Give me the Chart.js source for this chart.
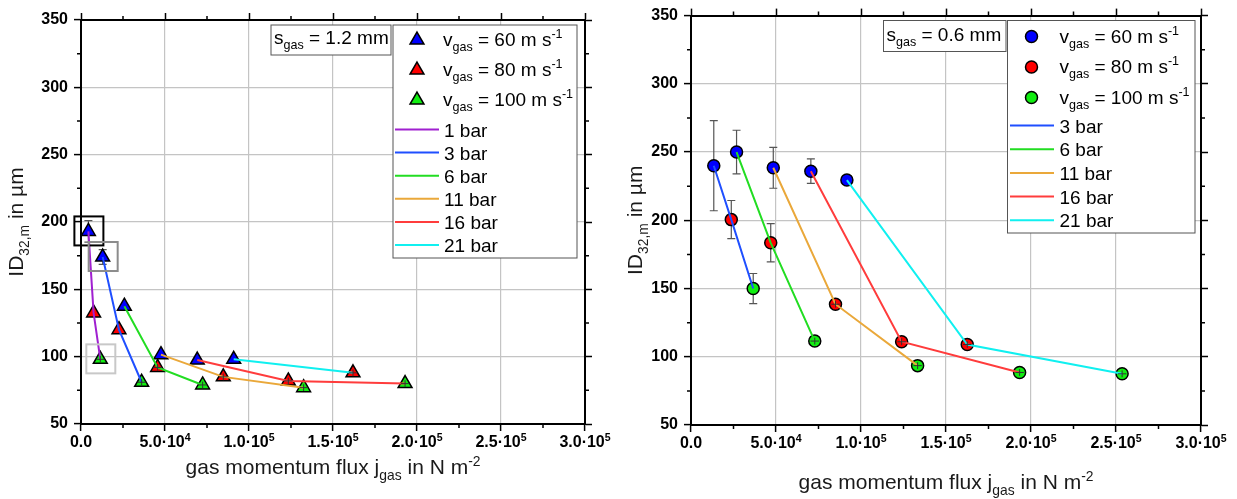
<!DOCTYPE html>
<html>
<head>
<meta charset="utf-8">
<script src="https://cdn.jsdelivr.net/npm/chart.js@4.4.0/dist/chart.umd.min.js"></script>
<style>
html, body { margin: 0; padding: 0; background: #fff; }
#wrap { position: relative; width: 1237px; height: 499px; }
.pane { position: absolute; top: 0; height: 499px; }
</style>
</head>
<body>
<div id="wrap">
  <div class="pane" style="left:0;width:620px"><canvas id="c1"></canvas></div>
  <div class="pane" style="left:620px;width:617px"><canvas id="c2"></canvas></div>
</div>
<script>
// ---- data: s_gas = 1.2 mm (left) ----
var pressL = ['1 bar', '3 bar', '6 bar', '11 bar', '16 bar', '21 bar'];
var xL60  = [4400, 12900, 25800, 47600, 69200, 90900];
var yL60  = [193, 174, 137.5, 101.5, 97.5, 98];
var xL80  = [7500, 22600, 45600, 84700, 123400, 161900];
var yL80  = [132.5, 120, 92, 85, 82, 88];
var xL100 = [11500, 36100, 72400, 132500, 192900];
var yL100 = [98, 81, 79, 77, 80];
var eyL60  = [8, 5.5, 0, 0, 0, 0];
var exL60  = [0, 0, 0, 0, 0, 0];
var eyL80  = [0, 0, 2.5, 2.5, 2.5, 2.5];
var exL80  = [0, 0, 2500, 2500, 2500, 2500];
var eyL100 = [2.5, 2.5, 2.5, 2.5, 2.5];
var exL100 = [2500, 2500, 2500, 2500, 2500];

// ---- data: s_gas = 0.6 mm (right) ----
var pressR = ['3 bar', '6 bar', '11 bar', '16 bar', '21 bar'];
var xR60  = [13400, 26800, 48400, 70500, 91700];
var yR60  = [240, 250, 238.5, 236, 229.5];
var xR80  = [23700, 46900, 85000, 123900, 162500];
var yR80  = [200.5, 183.5, 138.5, 111, 109];
var xR100 = [36600, 72800, 133300, 193300, 253600];
var yR100 = [150, 111.5, 93.5, 88.5, 87.5];
var eyR60  = [33, 16, 15, 9, 3];
var exR60  = [0, 0, 0, 0, 0];
var eyR80  = [14, 14, 2.5, 2.5, 2.5];
var exR80  = [0, 0, 2500, 2500, 2500];
var eyR100 = [11, 2.5, 2.5, 2.5, 2.5];
var exR100 = [0, 2500, 2500, 2500, 2500];

var xTicks = [0, 50000, 100000, 150000, 200000, 250000, 300000];
var yTicks = [50, 100, 150, 200, 250, 300, 350];

var FONT = '"Liberation Sans", Arial, sans-serif';
var velColors = ['#0000ff', '#ff0000', '#11ee11'];
var velNames = ['60', '80', '100'];
var lineColL = ['#a020d0', '#1f4fff', '#22dd22', '#eaa83a', '#ff3c3c', '#10f0f0'];
var lineColR = ['#1f4fff', '#22dd22', '#eaa83a', '#ff3c3c', '#10f0f0'];

// x tick label as parts: mantissa·10 + superscript exponent
function xLabelParts(v) {
  if (v === 0) return [['0.0', '']];
  var e = Math.floor(Math.log10(v) + 1e-9);
  var m = v / Math.pow(10, e);
  return [[m.toFixed(1) + '·10', ''], [String(e), 'sup']];
}

// text with sub/superscripts, parts = [[text, ''|'sub'|'sup'], ...], y = baseline
function rich(ctx, parts, x, y, size, align, weight) {
  var small = size * 0.66, w = 0, i, p;
  var wt = weight ? weight + ' ' : '';
  for (i = 0; i < parts.length; i++) {
    p = parts[i];
    ctx.font = wt + (p[1] ? small : size) + 'px ' + FONT;
    w += ctx.measureText(p[0]).width;
  }
  var cx = align === 'center' ? x - w / 2 : x;
  ctx.textAlign = 'left';
  ctx.textBaseline = 'alphabetic';
  for (i = 0; i < parts.length; i++) {
    p = parts[i];
    ctx.font = wt + (p[1] ? small : size) + 'px ' + FONT;
    var dy = p[1] === 'sub' ? size * 0.28 : (p[1] === 'sup' ? -size * 0.4 : 0);
    ctx.fillText(p[0], cx, y + dy);
    cx += ctx.measureText(p[0]).width;
  }
}

function marker(ctx, style, x, y, r, fill) {
  ctx.beginPath();
  if (style === 'triangle') {
    var a = 0;
    for (var k = 0; k < 3; k++) {
      var px = x + Math.sin(a) * r, py = y - Math.cos(a) * r;
      if (k) ctx.lineTo(px, py); else ctx.moveTo(px, py);
      a += 2 * Math.PI / 3;
    }
    ctx.closePath();
  } else {
    ctx.arc(x, y, r, 0, 2 * Math.PI);
  }
  ctx.fillStyle = fill;
  ctx.fill();
  ctx.lineWidth = 1.5;
  ctx.strokeStyle = '#000';
  ctx.stroke();
}

var DECO = {
  c1: {
    style: 'triangle', r: 8,
    series: [[xL60, yL60, eyL60, exL60], [xL80, yL80, eyL80, exL80], [xL100, yL100, eyL100, exL100]],
    press: pressL, lineCol: lineColL,
    sgas: {x: 271, y: 25, w: 120, h: 30, tx: 274, base: 44, val: '1.2'},
    leg: {x: 393, y: 25, w: 184, h: 233, mx: 417, tx: 443, my0: 40, mstep: 30, lx0: 395, lx1: 439, ltx: 444, ly0: 129.5, lstep: 23.1},
    boxes: [[0, 0, '#000'], [0, 1, '#8c8c8c'], [2, 0, '#c8c8c8']],
    xtBase: 474, ytX: 23
  },
  c2: {
    style: 'circle', r: 6,
    series: [[xR60, yR60, eyR60, exR60], [xR80, yR80, eyR80, exR80], [xR100, yR100, eyR100, exR100]],
    press: pressR, lineCol: lineColR,
    sgas: {x: 263.5, y: 20.5, w: 122.5, h: 31, tx: 266.5, base: 41, val: '0.6'},
    leg: {x: 387.5, y: 20.5, w: 187.5, h: 212.5, mx: 411.5, tx: 439.5, my0: 36.5, mstep: 30.5, lx0: 390, lx1: 434, ltx: 439.5, ly0: 125.5, lstep: 23.7},
    boxes: [],
    xtBase: 489, ytX: 22
  }
};

function errBars(chart, over) {
  var d = DECO[chart.canvas.id], ctx = chart.ctx;
  var sx = chart.scales.x, sy = chart.scales.y;
  ctx.save();
  d.series.forEach(function (s) {
    for (var i = 0; i < s[0].length; i++) {
      var px = sx.getPixelForValue(s[0][i]), py = sy.getPixelForValue(s[1][i]);
      var ey = s[2][i], ex = s[3][i];
      if (!ey && !ex) continue;
      var top = sy.getPixelForValue(s[1][i] + ey), bot = sy.getPixelForValue(s[1][i] - ey);
      if (!over && !ex) {
        ctx.strokeStyle = '#555'; ctx.lineWidth = 1.2;
        ctx.beginPath();
        ctx.moveTo(px, top); ctx.lineTo(px, bot);
        ctx.moveTo(px - 4, top); ctx.lineTo(px + 4, top);
        ctx.moveTo(px - 4, bot); ctx.lineTo(px + 4, bot);
        ctx.stroke();
      } else if (over && ex) {
        var l = sx.getPixelForValue(s[0][i] - ex), r = sx.getPixelForValue(s[0][i] + ex);
        ctx.strokeStyle = '#333'; ctx.lineWidth = 1;
        ctx.beginPath();
        ctx.moveTo(l, py); ctx.lineTo(r, py);
        ctx.moveTo(px, top); ctx.lineTo(px, bot);
        ctx.stroke();
      }
    }
  });
  ctx.restore();
}

var decoPlugin = {
  id: 'deco',
  beforeDatasetsDraw: function (chart) { errBars(chart, false); },
  afterDatasetsDraw: function (chart) {
    errBars(chart, true);
    var d = DECO[chart.canvas.id], ctx = chart.ctx;
    ctx.save();
    d.boxes.forEach(function (b) {
      var s = d.series[b[0]];
      var px = chart.scales.x.getPixelForValue(s[0][b[1]]);
      var py = chart.scales.y.getPixelForValue(s[1][b[1]]);
      ctx.strokeStyle = b[2]; ctx.lineWidth = 2;
      ctx.strokeRect(px - 14, py - 15, 29, 29);
    });
    ctx.restore();
  },
  afterDraw: function (chart) {
    var d = DECO[chart.canvas.id], ctx = chart.ctx, a = chart.chartArea;
    var sx = chart.scales.x, sy = chart.scales.y;
    ctx.save();
    // minor ticks
    ctx.strokeStyle = '#000'; ctx.lineWidth = 1.5;
    ctx.beginPath();
    for (var v = 25000; v < 300000; v += 50000) {
      var p = sx.getPixelForValue(v);
      ctx.moveTo(p, a.bottom); ctx.lineTo(p, a.bottom + 4);
      ctx.moveTo(p, a.top); ctx.lineTo(p, a.top - 4);
    }
    for (var w = 75; w < 350; w += 50) {
      var q = sy.getPixelForValue(w);
      ctx.moveTo(a.left, q); ctx.lineTo(a.left - 4, q);
      ctx.moveTo(a.right, q); ctx.lineTo(a.right + 4, q);
    }
    ctx.stroke();

    // x tick labels with real superscripts
    ctx.fillStyle = '#000';
    xTicks.forEach(function (t) {
      rich(ctx, xLabelParts(t), sx.getPixelForValue(t), a.bottom + 23, 16, 'center', 'bold');
    });

    // axis titles
    ctx.fillStyle = '#1a1a1a';
    rich(ctx, [['gas momentum flux j', ''], ['gas', 'sub'], [' in N m', ''], ['-2', 'sup']],
      (a.left + a.right) / 2, d.xtBase, 21, 'center');
    ctx.save();
    ctx.translate(d.ytX, (a.top + a.bottom) / 2);
    ctx.rotate(-Math.PI / 2);
    rich(ctx, [['ID', ''], ['32,m', 'sub'], [' in µm', '']], 0, 0, 21, 'center');
    ctx.restore();

    // s_gas box
    var g = d.sgas;
    ctx.fillStyle = '#fff'; ctx.fillRect(g.x, g.y, g.w, g.h);
    ctx.strokeStyle = '#555'; ctx.lineWidth = 1; ctx.strokeRect(g.x, g.y, g.w, g.h);
    ctx.fillStyle = '#000';
    rich(ctx, [['s', ''], ['gas', 'sub'], [' = ' + g.val + ' mm', '']], g.tx, g.base, 19, 'left');

    // legend
    var L = d.leg;
    ctx.fillStyle = '#fff'; ctx.fillRect(L.x, L.y, L.w, L.h);
    ctx.strokeStyle = '#555'; ctx.lineWidth = 1; ctx.strokeRect(L.x, L.y, L.w, L.h);
    for (var i = 0; i < 3; i++) {
      var my = L.my0 + i * L.mstep;
      marker(ctx, d.style, L.mx, my, d.r, velColors[i]);
      ctx.fillStyle = '#000';
      rich(ctx, [['v', ''], ['gas', 'sub'], [' = ' + velNames[i] + ' m s', ''], ['-1', 'sup']], L.tx, my + 6, 19, 'left');
    }
    d.press.forEach(function (name, k) {
      var ly = L.ly0 + k * L.lstep;
      ctx.strokeStyle = d.lineCol[k]; ctx.lineWidth = 2;
      ctx.beginPath(); ctx.moveTo(L.lx0, ly); ctx.lineTo(L.lx1, ly); ctx.stroke();
      ctx.fillStyle = '#000';
      rich(ctx, [[name, '']], L.ltx, ly + 7, 19, 'left');
    });
    ctx.restore();
  }
};

function scales(lay) {
  var tickFont = {family: FONT, size: 16, weight: 'bold'};
  var fixX = function (axis) {
    axis.ticks = xTicks.map(function (v) { return {value: v}; });
  };
  var fixY = function (axis) {
    axis.ticks = yTicks.map(function (v) { return {value: v}; });
  };
  return {
    x: {
      type: 'linear', position: 'bottom', min: 0, max: 300000, afterBuildTicks: fixX,
      // labels are drawn by the deco plugin (superscripts), keep the axis' own ones invisible
      ticks: {font: tickFont, color: 'rgba(0,0,0,0)', padding: 2, maxRotation: 0, autoSkip: false},
      grid: {color: '#c4c4c4', lineWidth: 1.2, tickColor: '#000', tickLength: 7, tickWidth: 1.5},
      border: {color: '#000', width: 2},
      afterFit: function (s) { s.height = lay.bottom; }
    },
    x2: {
      type: 'linear', position: 'top', min: 0, max: 300000, afterBuildTicks: fixX,
      ticks: {display: false},
      grid: {drawOnChartArea: false, tickColor: '#000', tickLength: 7, tickWidth: 1.5},
      border: {color: '#000', width: 2},
      afterFit: function (s) { s.height = lay.top; }
    },
    y: {
      type: 'linear', position: 'left', min: 50, max: 350, afterBuildTicks: fixY,
      ticks: {font: tickFont, color: '#000', padding: lay.ypad},
      grid: {color: '#c4c4c4', lineWidth: 1.2, tickColor: '#000', tickLength: 7, tickWidth: 1.5},
      border: {color: '#000', width: 2},
      afterFit: function (s) { s.width = lay.left; }
    },
    y2: {
      type: 'linear', position: 'right', min: 50, max: 350, afterBuildTicks: fixY,
      ticks: {display: false},
      grid: {drawOnChartArea: false, tickColor: '#000', tickLength: 7, tickWidth: 1.5},
      border: {color: '#000', width: 2},
      afterFit: function (s) { s.width = lay.right; }
    }
  };
}

function build(id, lay) {
  var d = DECO[id];
  var ds = [];
  d.series.forEach(function (s, k) {
    ds.push({
      label: 'v' + velNames[k],
      data: s[0].map(function (x, i) { return {x: x, y: s[1][i]}; }),
      pointStyle: d.style, pointRadius: d.r, pointHoverRadius: d.r,
      backgroundColor: velColors[k], borderColor: '#000', borderWidth: 1.5,
      showLine: false, order: 1
    });
  });
  d.press.forEach(function (name, i) {
    var pts = [];
    d.series.forEach(function (s) {
      if (i < s[0].length) pts.push({x: s[0][i], y: s[1][i]});
    });
    ds.push({
      label: name, data: pts, showLine: true, borderColor: d.lineCol[i], borderWidth: 2,
      pointRadius: 0, fill: false, order: 0
    });
  });
  return new Chart(document.getElementById(id), {
    type: 'scatter',
    data: {datasets: ds},
    options: {
      responsive: true, maintainAspectRatio: false, animation: false,
      layout: {padding: 0},
      plugins: {legend: {display: false}, tooltip: {enabled: false}},
      scales: scales(lay)
    },
    plugins: [decoPlugin]
  });
}

build('c1', {left: 81, right: 35, top: 20, bottom: 75, ypad: 6});
build('c2', {left: 71, right: 36, top: 15, bottom: 74, ypad: 6});
</script>
</body>
</html>
